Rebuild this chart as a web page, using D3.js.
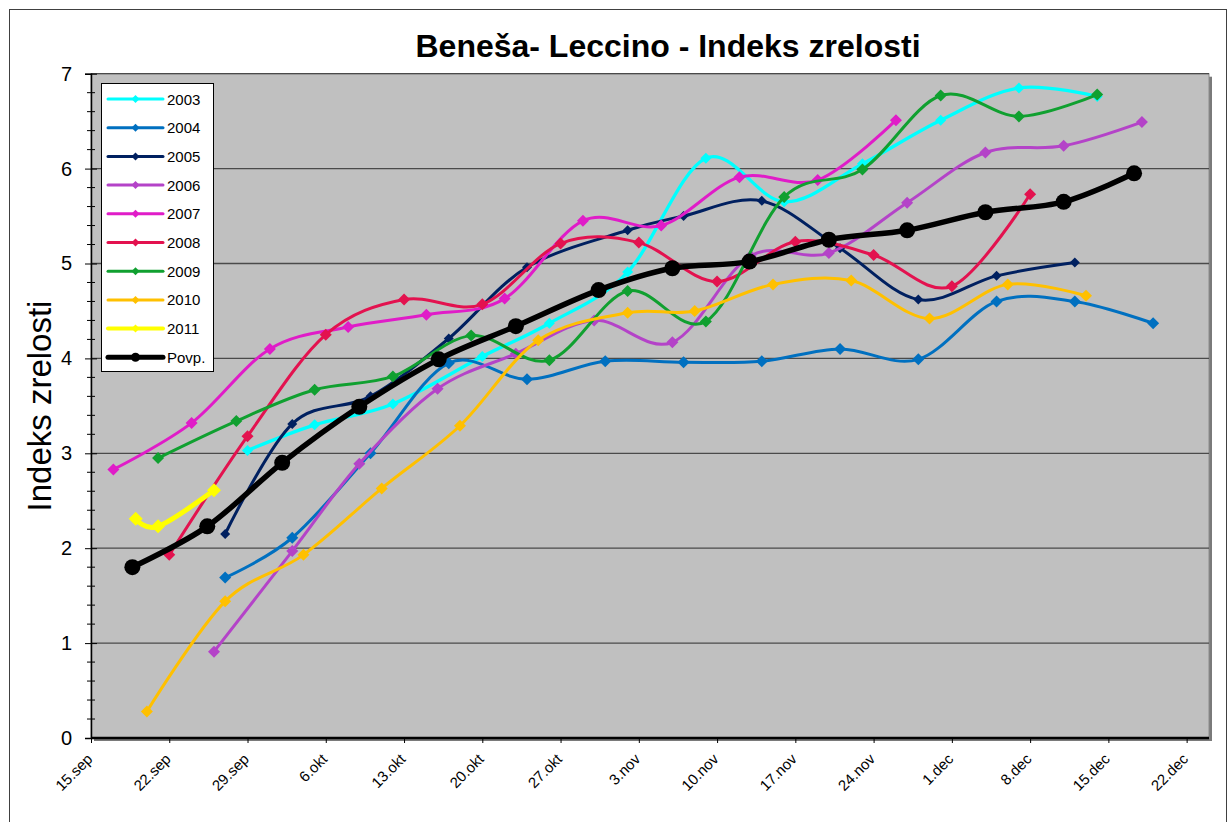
<!DOCTYPE html>
<html><head><meta charset="utf-8">
<script src="https://cdn.jsdelivr.net/npm/d3@7"></script>
<style>body{margin:0;background:#fff}text{font-family:"Liberation Sans",Arial,sans-serif}</style>
</head><body><svg id="c" width="1231" height="822"></svg>
<script>
const chartTitle = "Beneša- Leccino - Indeks zrelosti";
const yAxisTitle = "Indeks zrelosti";
// x = days after 15 Sep
const xTickDays = [0,7,14,21,28,35,42,49,56,63,70,77,84,91,98];
const xTickLabels = ["15.sep","22.sep","29.sep","6.okt","13.okt","20.okt","27.okt","3.nov","10.nov","17.nov","24.nov","1.dec","8.dec","15.dec","22.dec"];
const yTickValues = [0,1,2,3,4,5,6,7];

const names = ["2003","2004","2005","2006","2007","2008","2009","2010","2011","Povp."];
const colors = ["#00FFFF","#0070C0","#002060","#B443C8","#E01CC8","#E3124F","#10A030","#FFC000","#FFFF00","#000000"];

const days2003 = [14,20,27,35,41,48,55,62,69,76,83,90];
const vals2003 = [3.03,3.30,3.52,4.02,4.37,4.91,6.11,5.65,6.05,6.51,6.85,6.76];
const days2004 = [12,18,25,32,39,46,53,60,67,74,81,88,95];
const vals2004 = [1.69,2.11,3.00,3.95,3.78,3.97,3.96,3.97,4.10,3.99,4.60,4.60,4.37];
const days2005 = [12,18,25,32,39,48,53,60,67,74,81,88];
const vals2005 = [2.15,3.31,3.60,4.21,4.96,5.35,5.50,5.66,5.16,4.62,4.87,5.01];
const days2006 = [11,18,24,31,38,45,52,59,66,73,80,87,94];
const vals2006 = [0.91,1.97,2.89,3.68,4.05,4.40,4.17,5.08,5.11,5.64,6.17,6.24,6.49];
const days2007 = [2,9,16,23,30,37,44,51,58,65,72];
const vals2007 = [2.83,3.32,4.10,4.33,4.46,4.63,5.45,5.40,5.91,5.88,6.51];
const days2008 = [7,14,21,28,35,42,49,56,63,70,77,84];
const vals2008 = [1.93,3.18,4.25,4.62,4.57,5.21,5.22,4.81,5.23,5.09,4.76,5.73];
const days2009 = [6,13,20,27,34,41,48,55,62,69,76,83,90];
const vals2009 = [2.95,3.34,3.67,3.81,4.24,3.98,4.71,4.39,5.70,5.99,6.77,6.55,6.78];
const days2010 = [5,12,19,26,33,40,48,54,61,68,75,82,89];
const vals2010 = [0.28,1.44,1.93,2.63,3.29,4.19,4.48,4.50,4.78,4.82,4.42,4.78,4.66];
const days2011 = [4,6,11];
const vals2011 = [2.31,2.23,2.61];
const daysPovp = [3.7,10.4,17.1,24,31.1,38,45.4,52,58.9,66,73,80,87,93.3];
const valsPovp = [1.80,2.23,2.90,3.49,3.99,4.34,4.72,4.95,5.02,5.25,5.35,5.54,5.65,5.95];

const allDays = [days2003,days2004,days2005,days2006,days2007,days2008,days2009,days2010,days2011,daysPovp];
const allVals = [vals2003,vals2004,vals2005,vals2006,vals2007,vals2008,vals2009,vals2010,vals2011,valsPovp];
const lineW = [3.3,3,3,3,3,3,3,3,5,5.5];
const markSize = [11,12,10,12,12,12,12,12,14,16];

const series = names.map((n,i)=>({name:n,color:colors[i],lw:lineW[i],ms:markSize[i],
  pts:allDays[i].map((d,j)=>({d:d,v:allVals[i][j]}))}));

const svg = d3.select("#c");
const L=91, R=1209, T=73.7, B=738;
const x = d3.scaleLinear().domain([0,100]).range([L,R]);
const y = d3.scaleLinear().domain([0,7]).range([B,T]);

// outer border
svg.append("rect").attr("x",9.5).attr("y",9.5).attr("width",1217).attr("height",830)
  .attr("fill","#fff").attr("stroke","#404040").attr("stroke-width",1);

// plot area shadow + fill
svg.append("rect").attr("x",L+3).attr("y",T+3).attr("width",R-L).attr("height",B-T).attr("fill","#7a7a7a");
svg.append("rect").attr("x",L).attr("y",T).attr("width",R-L).attr("height",B-T)
  .attr("fill","#C0C0C0").attr("stroke","#8c8c8c").attr("stroke-width",1);

// gridlines
svg.append("g").selectAll("line").data(yTickValues.filter(v=>v>0)).join("line")
  .attr("x1",L).attr("x2",R).attr("y1",d=>y(d)).attr("y2",d=>y(d))
  .attr("stroke","#4a4a4a").attr("stroke-width",1.3);

// title
svg.append("text").attr("x",668).attr("y",57).attr("text-anchor","middle")
  .attr("font-size",32).attr("font-weight","bold").text(chartTitle);

// y axis
const yAxis = d3.axisLeft(y).tickValues(yTickValues).tickSize(6).tickPadding(13).tickFormat(d3.format("d"));
const gy = svg.append("g").attr("transform",`translate(${L},0)`).call(yAxis);
gy.select(".domain").attr("stroke","#000").attr("stroke-width",1.5);
gy.selectAll(".tick line").attr("stroke","#000").attr("x2",-6).attr("x1",6);
gy.selectAll(".tick text").attr("font-size",20).attr("font-family","Liberation Sans, Arial, sans-serif").attr("fill","#000");
// minor ticks
const minor = d3.range(0,7.01,0.2).filter(v=>Math.abs(v-Math.round(v))>0.01);
gy.append("g").selectAll("line").data(minor).join("line")
  .attr("x1",-4).attr("x2",4).attr("y1",d=>y(d)).attr("y2",d=>y(d)).attr("stroke","#000").attr("stroke-width",1);

svg.append("text").attr("transform",`translate(51,406) rotate(-90)`).attr("text-anchor","middle")
  .attr("font-size",33).text(yAxisTitle);

// x axis
const xAxis = d3.axisBottom(x).tickValues(xTickDays).tickSize(5).tickFormat((d,i)=>xTickLabels[i]);
const gx = svg.append("g").attr("transform",`translate(0,${B})`).call(xAxis);
gx.select(".domain").attr("stroke","#000").attr("stroke-width",2.5).attr("d",`M${L},0H${R}`);
gx.selectAll(".tick line").attr("stroke","#000");
gx.selectAll(".tick text").attr("font-size",15).attr("font-family","Liberation Sans, Arial, sans-serif").attr("fill","#000")
  .attr("text-anchor","end").attr("dy",0).attr("y",0)
  .attr("transform","translate(2,22) rotate(-45)");

// lines
const line = d3.line().x(p=>x(p.d)).y(p=>y(p.v)).curve(d3.curveCardinal.tension(0));
const diamond = s => `M0,${-s/2}L${s/2},0L0,${s/2}L${-s/2},0Z`;
const gs = svg.append("g");
series.forEach((s,i)=>{
  const g = gs.append("g");
  g.append("path").attr("d",line(s.pts)).attr("fill","none").attr("stroke",s.color)
    .attr("stroke-width",s.lw).attr("stroke-linejoin","round");
  if(s.name==="Povp."){
    g.selectAll("circle").data(s.pts).join("circle").attr("cx",p=>x(p.d)).attr("cy",p=>y(p.v))
      .attr("r",s.ms/2).attr("fill",s.color);
  } else {
    g.selectAll("path.m").data(s.pts).join("path").attr("class","m")
      .attr("transform",p=>`translate(${x(p.d)},${y(p.v)})`).attr("d",diamond(s.ms)).attr("fill",s.color);
  }
});

// legend
const lg = svg.append("g");
lg.append("rect").attr("x",101.5).attr("y",83.5).attr("width",112).attr("height",288)
  .attr("fill","#fff").attr("stroke","#000").attr("stroke-width",1);
series.forEach((s,i)=>{
  const yy = 99 + i*28.7;
  lg.append("line").attr("x1",108).attr("x2",163).attr("y1",yy).attr("y2",yy)
    .attr("stroke",s.color).attr("stroke-width",s.name==="Povp."?5:(s.name==="2011"?4:3)).attr("stroke-linecap","round");
  if(s.name==="Povp.") lg.append("circle").attr("cx",135.5).attr("cy",yy).attr("r",4.5).attr("fill",s.color);
  else lg.append("path").attr("transform",`translate(135.5,${yy})`).attr("d",diamond(8)).attr("fill",s.color);
  lg.append("text").attr("x",167).attr("y",yy+5.5).attr("font-size",15).text(s.name);
});
</script></body></html>
